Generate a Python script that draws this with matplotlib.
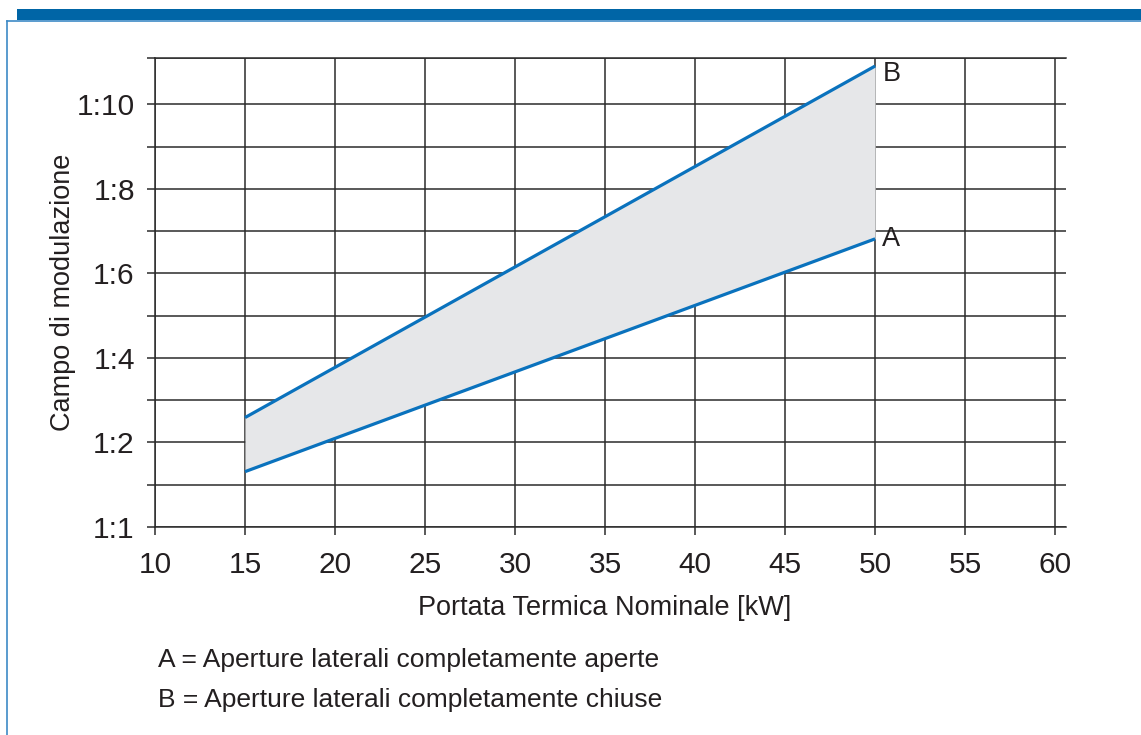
import numpy as np
import matplotlib.pyplot as plt
from matplotlib.patches import Rectangle
from matplotlib.lines import Line2D

# data
x_ends = [15, 50]
a_vals = [1.31, 6.82]     # A = aperture laterali completamente aperte
b_vals = [2.59, 10.91]    # B = aperture laterali completamente chiuse
xticks = [10, 15, 20, 25, 30, 35, 40, 45, 50, 55, 60]
ytick_pos = [0, 2, 4, 6, 8, 10]
ytick_labels = ["1:1", "1:2", "1:4", "1:6", "1:8", "1:10"]
ytick_minor = [1, 3, 5, 7, 9, 11.1]

plt.rcParams['font.family'] = ['Liberation Sans', 'DejaVu Sans']
txt = "#231f20"
grid_c = "#2b2b2b"
blue = "#0a72bd"

fig = plt.figure(figsize=(11.41, 7.35), dpi=100)
ax = fig.add_axes([155/1141, 1-527/735, 911/1141, 469/735])

ax.fill_between(x_ends, a_vals, b_vals, color="#e6e7e9", lw=0, zorder=1)
ax.plot(x_ends, a_vals, color=blue, lw=2.3, zorder=3, solid_capstyle="butt")
ax.plot(x_ends, b_vals, color=blue, lw=2.3, zorder=3, solid_capstyle="butt")
ax.text(x_ends[1] + 0.4, a_vals[1], "A", fontsize=19.5, color=txt, va="center", ha="left")
ax.text(x_ends[1] + 0.4, b_vals[1] - 0.18, "B", fontsize=19.5, color=txt, va="center", ha="left")

ax.set_xlim(10, 60.6)
ax.set_ylim(0, 11.1)
ax.set_xticks(xticks)
ax.set_yticks(ytick_pos)
ax.set_yticklabels(ytick_labels)
ax.set_yticks(ytick_minor, minor=True)
ax.tick_params(axis="both", which="both", direction="out", length=5.5, width=1.1,
               color=grid_c, labelcolor=txt, labelsize=21.5)
ax.tick_params(axis="y", pad=9)
ax.tick_params(axis="x", pad=12)
ax.grid(True, which="both", color=grid_c, lw=1.1, zorder=0)
ax.set_axisbelow(True)
for s in ["left", "top", "bottom"]:
    ax.spines[s].set_color(grid_c)
    ax.spines[s].set_linewidth(1.1)
ax.spines["right"].set_visible(False)

ax.set_xlabel("Portata Termica Nominale [kW]", fontsize=19.5, color=txt)
ax.set_ylabel("Campo di modulazione", fontsize=19.5, color=txt)
ax.xaxis.set_label_coords((605-155)/911, -(608-527)/469)
ax.xaxis.label.set_va("center")
ax.yaxis.set_label_coords(-(155-63)/911, 0.5)
ax.yaxis.label.set_va("center")

fig.text(158/1141, 1-660/735, "A = Aperture laterali completamente aperte",
         fontsize=19, color=txt, va="center", ha="left")
fig.text(158/1141, 1-700/735, "B = Aperture laterali completamente chiuse",
         fontsize=19, color=txt, va="center", ha="left")

# frame decoration
fig.patches.append(Rectangle((17/1141, 1-20/735), 1, 11/735, transform=fig.transFigure,
                             color="#0065a6", lw=0))
fig.lines.append(Line2D([7/1141, 1], [1-20.5/735, 1-20.5/735], transform=fig.transFigure,
                        color="#3d8ac6", lw=1.2))
fig.lines.append(Line2D([7/1141, 7/1141], [1-20.5/735, 0], transform=fig.transFigure,
                        color="#3d8ac6", lw=1.2))

fig.savefig("out.png", dpi=100)
